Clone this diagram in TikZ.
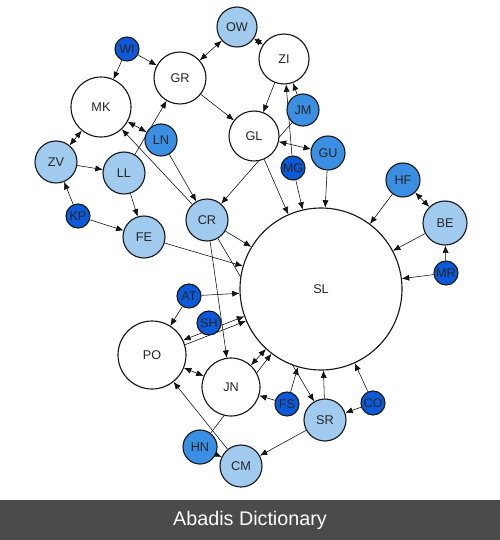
\documentclass[tikz,border=0pt]{standalone}
\usepackage{fontspec}
\setmainfont{Liberation Sans}
\usetikzlibrary{arrows.meta,backgrounds}

\definecolor{lightblue}{RGB}{160,202,238}
\definecolor{midblue}{RGB}{58,143,226}
\definecolor{darkblue}{RGB}{12,90,218}
\definecolor{bannergray}{RGB}{76,74,74}

\begin{document}
\begin{tikzpicture}[x=0.75pt, y=-0.75pt,
        >={Latex[length=5.5pt,width=4.5pt]},
        person/.style={circle, draw=black!90, line width=0.85pt, inner sep=0pt, text=black!85, font=\fontsize{9.5}{11}\selectfont},
        plain/.style={person, fill=white},
        pale/.style={person, fill=lightblue},
        mid/.style={person, fill=midblue},
        deep/.style={person, fill=darkblue},
        link/.style={line width=0.8pt, draw=black!90}]
        \useasboundingbox (0, 0) rectangle (500, 540);

        % Nodes
        \node[pale,  minimum size=30pt]    at (237, 27)  (OW) {OW};
        \node[plain, minimum size=37.5pt]  at (284, 59)  (ZI) {ZI};
        \node[deep,  minimum size=18pt]    at (127, 49)  (WI) {WI};
        \node[plain, minimum size=39pt]    at (180, 78)  (GR) {GR};
        \node[plain, minimum size=45pt]    at (101, 107) (MK) {MK};
        \node[mid,   minimum size=24pt]    at (303, 110) (JM) {JM};
        \node[plain, minimum size=37.5pt]  at (254, 136) (GL) {GL};
        \node[mid,   minimum size=24pt]    at (161, 140) (LN) {LN};
        \node[mid,   minimum size=25.5pt]  at (328, 153) (GU) {GU};
        \node[deep,  minimum size=18pt]    at (293, 168) (MG) {MG};
        \node[pale,  minimum size=31.5pt]  at (56, 162)  (ZV) {ZV};
        \node[pale,  minimum size=31.5pt]  at (124, 173) (LL) {LL};
        \node[mid,   minimum size=25.5pt]  at (403, 180) (HF) {HF};
        \node[deep,  minimum size=18pt]    at (78, 216)  (KP) {KP};
        \node[pale,  minimum size=31.5pt]  at (207, 220) (CR) {CR};
        \node[pale,  minimum size=33pt]    at (445, 223) (BE) {BE};
        \node[pale,  minimum size=31.5pt]  at (144, 237) (FE) {FE};
        \node[plain, minimum size=121.5pt] at (321, 289) (SL) {SL};
        \node[deep,  minimum size=18pt]    at (446, 273) (MR) {MR};
        \node[deep,  minimum size=18pt]    at (189, 296) (AT) {AT};
        \node[deep,  minimum size=18pt]    at (209, 323) (SH) {SH};
        \node[plain, minimum size=51pt]    at (152, 355) (PO) {PO};
        \node[plain, minimum size=43.5pt]  at (231, 387) (JN) {JN};
        \node[deep,  minimum size=18pt]    at (287, 404) (FS) {FS};
        \node[deep,  minimum size=18pt]    at (373, 403) (CO) {CO};
        \node[pale,  minimum size=31.5pt]  at (325, 420) (SR) {SR};
        \node[mid,   minimum size=25.5pt]  at (200, 447) (HN) {HN};
        \node[pale,  minimum size=31.5pt]  at (241, 466) (CM) {CM};

        \begin{scope}[on background layer, link]
        % top
        \draw[<->] (GR) edge (OW);
        \draw[<->] (OW) edge (ZI);
        \draw[->]  (WI) edge (GR);
        \draw[->]  (WI) edge (MK);
        \draw[->]  (GR) edge (GL);
        \draw[->]  (ZI) edge (GL);
        \draw[->]  (JM) edge (ZI);
        \draw[->]  (MG) edge (ZI);
        \draw[->]  (JM) edge (CR);
        \draw[<->] (GL) edge (GU);
        \draw[->]  (GL) edge (SL);
        \draw[->]  (MG) edge (SL);
        \draw[->]  (GU) edge (SL);
        \draw[->]  (HF) edge (SL);
        \draw[<->] (HF) edge (BE);
        \draw[->]  (BE) edge (SL);
        \draw[->]  (MR) edge (BE);
        \draw[->]  (MR) edge (SL);

        % left
        \draw[<->] (MK) edge (ZV);
        \draw[<->] (MK) edge (LN);
        \draw[->]  (LL) edge (GR);
        \draw[->]  (CR) edge (MK);
        \draw[->]  (LN) edge (CR);
        \draw[->]  (ZV) edge (LL);
        \draw[->]  (KP) edge (ZV);
        \draw[->]  (KP) edge (FE);
        \draw[->]  (LL) edge (FE);
        \draw[->]  (FE) edge (SL);
        \draw[->]  (CR) edge (SL);
        \draw[->]  (CR) edge (SR);
        \draw[->]  (CR) edge (JN);

        % bottom
        \draw[->]  (FS) edge (SL);
        \draw[->]  (FS) edge (JN);
        \draw[->]  (SR) edge (SL);
        \draw[->]  (CO) edge (SL);
        \draw[->]  (CO) edge (SR);
        \draw[->]  (SR) edge (CM);
        \draw[<->] (JN) edge (SL);
        \draw[->]  (HN) edge (SL);
        \draw[<->, transform canvas={shift={(-0.9,-2.3)}}] (PO) edge (SL);
        \draw[->,  transform canvas={shift={(0.9,2.3)}}]   (PO) edge (SL);
        \draw[->]  (AT) edge (SL);
        \draw[->]  (AT) edge (PO);
        \draw[<->] (PO) edge (JN);
        \draw[->]  (CM) edge (PO);
        \draw[->]  (HN) edge (CM);
        \end{scope}

        % banner
        \fill[bannergray] (0, 500) rectangle (500, 540);
        \node[text=white, font=\fontsize{14.8}{17}\selectfont] at (250, 520) (banner) {Abadis Dictionary};

    \end{tikzpicture}
\end{document}
